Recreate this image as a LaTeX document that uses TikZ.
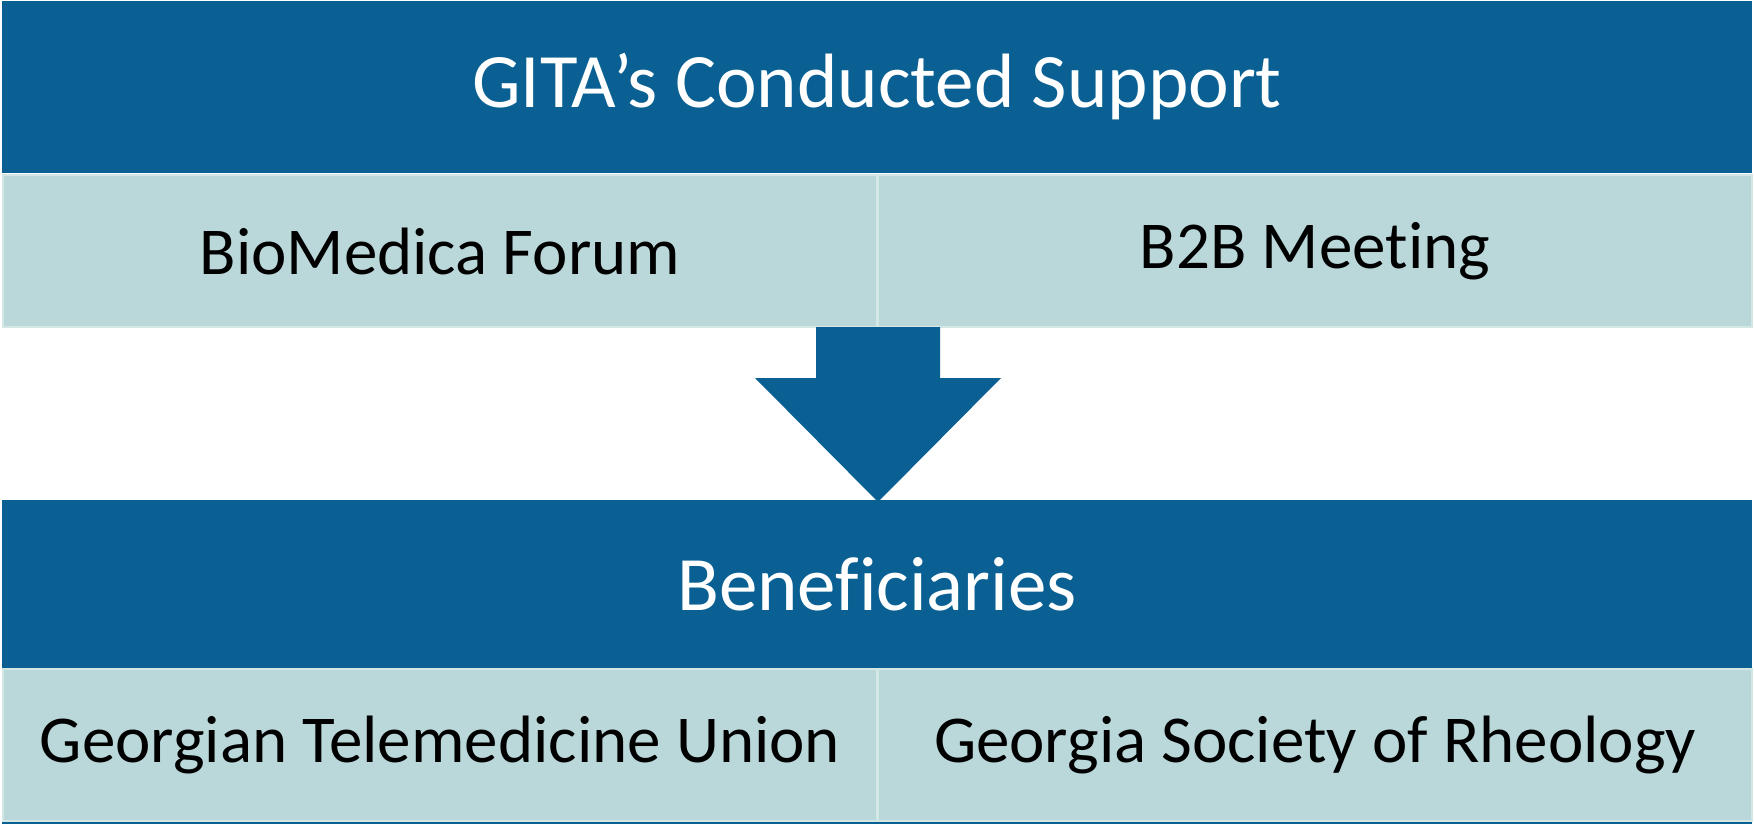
\documentclass[tikz,border=0pt]{standalone}
\usepackage{fontspec}
\setmainfont[Ligatures={NoCommon,NoRequired,NoContextual}]{Carlito}
\definecolor{dkblue}{HTML}{0A6093}
\definecolor{ltblue}{HTML}{BAD8DA}
\definecolor{sepline}{HTML}{D3E7E4}
\begin{document}
\begin{tikzpicture}[x=1pt,y=-1pt,
  hdr/.style={fill=dkblue, draw=none, inner sep=0pt, minimum width=1750pt, minimum height=172pt, text=white, font=\fontsize{77}{90}\selectfont},
  cell/.style={fill=ltblue, draw=sepline, line width=2pt, inner sep=0pt, minimum width=874pt, minimum height=152pt, text=black, font=\fontsize{67}{78}\selectfont}]
\useasboundingbox (0,0) rectangle (1754,824);
\node[hdr] (top) at (877,87) {GITA’s Conducted Support};
\node[cell] (c1) at (440,251) {BioMedica Forum};
\node[cell] (c2) at (1315,251) {B2B Meeting};
\node[hdr, minimum height=168pt] (bot) at (877,584) {Beneficiaries};
\node[cell] (d1) at (440,745) {Georgian Telemedicine Union};
\node[cell] (d2) at (1315,745) {Georgia Society of Rheology};
\coordinate (tip) at (878,502);
\fill[dkblue] (816,327) -- (940,327) -- (940,378) -- (1001,378) -- (tip) -- (755,378) -- (816,378) -- cycle;
\draw[dkblue, line width=2pt] (2,823) -- (1752,823);
\end{tikzpicture}
\end{document}
